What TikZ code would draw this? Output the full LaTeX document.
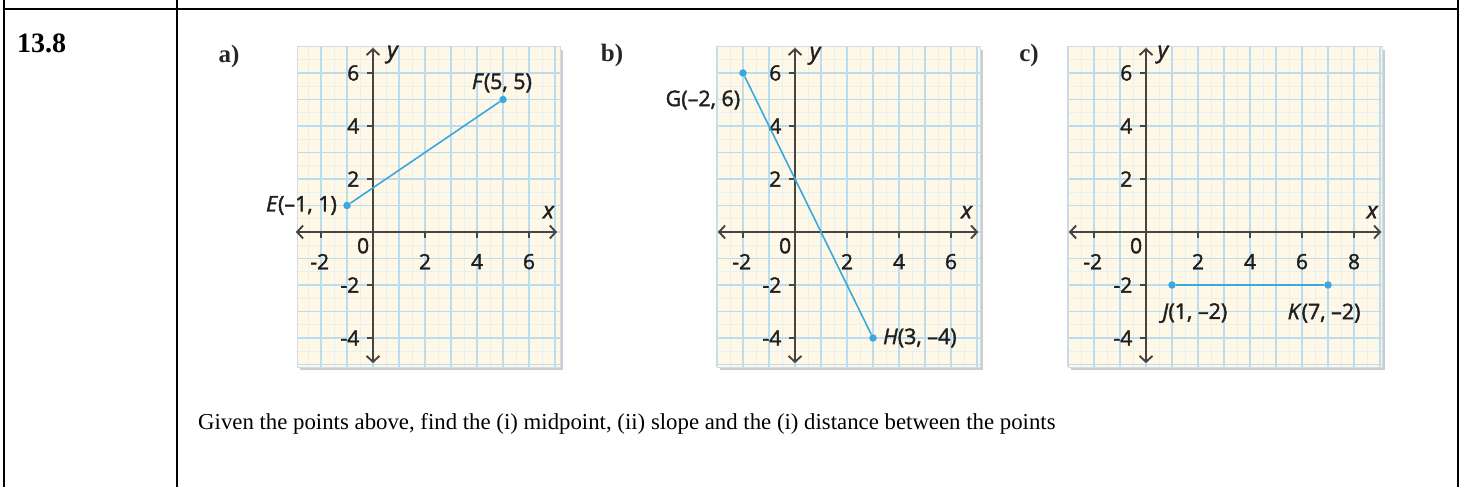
\documentclass[tikz,border=0pt]{standalone}
\usepackage{fontspec}
\setmainfont{Liberation Serif}
\newfontfamily\gfont[FakeBold=1.8]{Open Sans}
\usetikzlibrary{arrows.meta}
\definecolor{cream}{HTML}{FFF8E6}
\definecolor{gridblue}{HTML}{BBDDF0}
\definecolor{gridfaint}{HTML}{E6F1F4}
\definecolor{axisgray}{HTML}{454545}
\definecolor{segblue}{HTML}{3AA8DE}
\definecolor{shadowgray}{HTML}{C9CED3}
\definecolor{edgegray}{HTML}{D3DCE2}
\newcommand\mypanel[2]{%
  \fill[shadowgray] (#1+0.1,-5.1-0.12) rectangle (#2+0.1,7.0-0.12);
  \fill[cream] (#1,-5.1) rectangle (#2,7.0);
  \foreach \gx in {-3.5,-3,...,9.5} {
    \pgfmathparse{(\gx>=#1)&&(\gx<=#2)?1:0}
    \ifnum\pgfmathresult=1 \draw[gridfaint,line width=0.5pt] (\gx,-5.1) -- (\gx,7.0);\fi}
  \foreach \gy in {-5,-4.5,...,6.5} \draw[gridfaint,line width=0.5pt] (#1,\gy) -- (#2,\gy);
  \foreach \gx in {-3,...,9} {
    \pgfmathparse{(\gx>=#1)&&(\gx<=#2)?1:0}
    \ifnum\pgfmathresult=1 \draw[gridblue,line width=1.1pt] (\gx,-5.1) -- (\gx,7.0);\fi}
  \foreach \gy in {-5,...,6} \draw[gridblue,line width=1.1pt] (#1,\gy) -- (#2,\gy);
  \draw[edgegray,line width=0.8pt] (#1,-5.1) rectangle (#2,7.0);
}
\newcommand\myaxes[2]{% #1 x max of axis, #2 list of x ticks
  \draw[axis] (-2.97,0) -- (#1,0);
  \draw[axis] (0,-4.95) -- (0,6.95);
  \foreach \t in {#2} \draw[tick] (\t,0) -- (\t,-0.24);
  \foreach \t in {-4,-2,2,4,6} \draw[tick] (0,\t) -- (-0.24,\t);
  \foreach \t in {-4,-2,2,4,6} \node[ticklab,anchor=east] at (-0.52,\t) {\t};
  \node[ticklab] at (-0.38,-0.52) {0};
  \node[ticklab,anchor=east] at (-1.68,-1.12) {-2};
}
\begin{document}
\begin{tikzpicture}[x=1pt,y=1pt,
  tbl/.style={line width=2pt,black},
  ticklab/.style={font=\gfont\fontsize{21}{21}\selectfont,text=black!88,inner sep=0pt},
  ptlab/.style={font=\gfont\fontsize{21.5}{21.5}\selectfont,text=black!88,inner sep=0pt},
  axlab/.style={font=\gfont\itshape\fontsize{23}{23}\selectfont,text=black!88,inner sep=0pt},
  partlab/.style={font=\bfseries\fontsize{25}{25}\selectfont,text=black!85,inner sep=0pt},
  seg/.style={segblue,line width=1.6pt},
  dot/.style={circle,fill=segblue,inner sep=0pt,minimum size=7.5pt},
  tick/.style={axisgray,line width=1.3pt},
  axis/.style={axisgray,line width=1.9pt,{Straight Barb[length=6pt,width=13pt]}-{Straight Barb[length=6pt,width=13pt]}},
]
\useasboundingbox (0,0) rectangle (1461,487);
\fill[white] (0,0) rectangle (1461,487);
% table
\draw[tbl] (4,0) -- (4,487);
\draw[tbl] (177,0) -- (177,487);
\draw[tbl] (1458,0) -- (1458,487);
\draw[tbl] (3,478) -- (1459,478);
\node[font=\bfseries\fontsize{28}{28}\selectfont,anchor=base west,inner sep=0pt] (num) at (17,434) {13.8};
\node[font=\fontsize{22.8}{22.8}\selectfont,anchor=base west,inner sep=0pt] (q) at (198,57)
  {Given the points above, find the (i) midpoint, (ii) slope and the (i) distance between the points};
% part labels
\node[partlab] (la) at (229,431) {a)};
\node[partlab] (lb) at (612,432) {b)};
\node[partlab] (lc) at (1029,432) {c)};
% graph a
\begin{scope}[shift={(373,255)},x=26pt,y=26.5pt]
  \mypanel{-2.92}{7.22}
  \myaxes{7.08}{-2,2,4,6}
  \foreach \t in {2,4,6} \node[ticklab] at (\t,-1.12) {\t};
  \node[axlab] at (0.75,6.7) {y};
  \node[axlab] at (6.75,0.75) {x};
  \node[dot] (E) at (-1,1) {};
  \node[dot] (F) at (5,5) {};
  \draw[seg] (E) -- (F);
  \node[ptlab,anchor=east] (Elab) at (-1.38,1.0) {\textit{E}(–1, 1)};
  \node[ptlab] (Flab) at (4.96,5.62) {\textit{F}(5, 5)};
\end{scope}
% graph b
\begin{scope}[shift={(795,255)},x=26pt,y=26.5pt]
  \mypanel{-3.0}{7.12}
  \myaxes{7.05}{-2,2,4,6}
  \foreach \t in {2,4,6} \node[ticklab] at (\t,-1.12) {\t};
  \node[axlab] at (0.77,6.65) {y};
  \node[axlab] at (6.6,0.75) {x};
  \node[dot] (G) at (-2,6) {};
  \node[dot] (H) at (3,-4) {};
  \draw[seg] (G) -- (H);
  \node[ptlab,anchor=east] (Glab) at (-2.1,4.98) {G(–2, 6)};
  \node[ptlab,anchor=west] (Hlab) at (3.38,-4) {\textit{H}(3, –4)};
\end{scope}
% graph c
\begin{scope}[shift={(1146,255)},x=26pt,y=26.5pt]
  \mypanel{-3.0}{9.1}
  \myaxes{9.05}{-2,2,4,6,8}
  \foreach \t in {2,4,6,8} \node[ticklab] at (\t,-1.12) {\t};
  \node[axlab] at (0.65,6.7) {y};
  \node[axlab] at (8.7,0.75) {x};
  \node[dot] (J) at (1,-2) {};
  \node[dot] (K) at (7,-2) {};
  \draw[seg] (J) -- (K);
  \node[ptlab] (Jlab) at (1.88,-3.06) {\textit{J}(1, –2)};
  \node[ptlab] (Klab) at (6.85,-3.06) {\textit{K}(7, –2)};
\end{scope}
\end{tikzpicture}
\end{document}
